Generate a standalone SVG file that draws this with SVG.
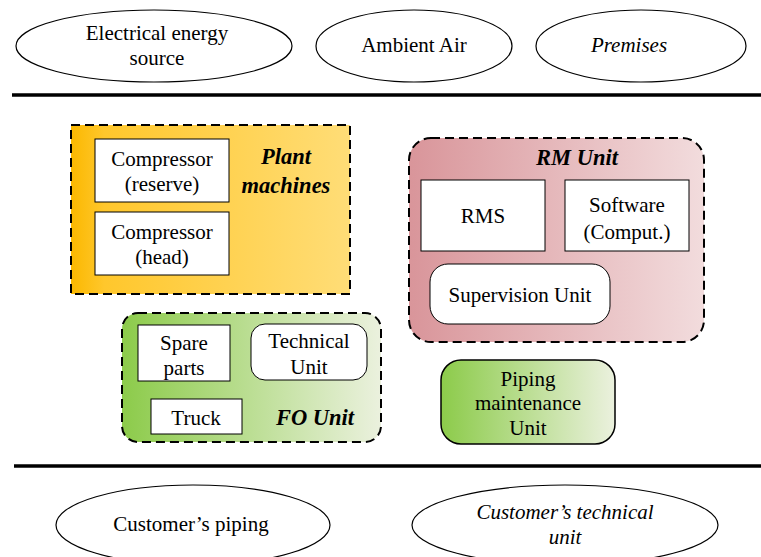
<svg xmlns="http://www.w3.org/2000/svg" width="761" height="557" viewBox="0 0 761 557">
<defs>
<linearGradient id="gOrange" x1="0" y1="0" x2="1" y2="0">
<stop offset="0" stop-color="#FBB800"/>
<stop offset="0.12" stop-color="#FFC72C"/>
<stop offset="1" stop-color="#FFDD77"/>
</linearGradient>
<linearGradient id="gRed" x1="0" y1="0" x2="1" y2="0">
<stop offset="0" stop-color="#D9959A"/>
<stop offset="1" stop-color="#F2DCDD"/>
</linearGradient>
<linearGradient id="gGreen" x1="0" y1="0" x2="1" y2="0">
<stop offset="0" stop-color="#8CCB4A"/>
<stop offset="1" stop-color="#EBF1DE"/>
</linearGradient>
<style>
text{font-size:21px;fill:#000;text-anchor:middle}
.it{font-style:italic}
.bi{font-style:italic;font-weight:bold;font-size:22.5px}
.ell{fill:#fff;stroke:#000;stroke-width:1.2}
.box{fill:#fff;stroke:#000;stroke-width:1}
.dash{stroke:#000;stroke-width:2;stroke-dasharray:9,5}
.bar{stroke:#000;stroke-width:3.5}
</style>
</defs>
<g id="lines">
<line class="bar" x1="12" y1="95" x2="761" y2="95"/>
<line class="bar" x1="14" y1="466" x2="761" y2="466"/>
</g>
<g font-family="Liberation Serif, Times New Roman, DejaVu Serif, serif">
<g id="electrical">
<ellipse class="ell" cx="154" cy="46" rx="138" ry="36"/>
<text x="157" y="40">Electrical energy</text>
<text x="157" y="65">source</text>
</g>
<g id="ambient">
<ellipse class="ell" cx="414" cy="46" rx="98" ry="36"/>
<text x="414" y="52">Ambient Air</text>
</g>
<g id="premises">
<ellipse class="ell" cx="641" cy="46" rx="105" ry="36"/>
<text class="it" x="629" y="52">Premises</text>
</g>
<g id="plant">
<rect class="dash" x="71" y="125" width="279" height="169" fill="url(#gOrange)"/>
<text class="bi" x="286" y="164">Plant</text>
<text class="bi" x="286" y="193">machines</text>
</g>
<g id="comp-reserve">
<rect class="box" x="95" y="139" width="134" height="63"/>
<text x="162" y="166">Compressor</text>
<text x="162" y="191">(reserve)</text>
</g>
<g id="comp-head">
<rect class="box" x="95" y="212" width="134" height="63"/>
<text x="162" y="239">Compressor</text>
<text x="162" y="264">(head)</text>
</g>
<g id="rm">
<rect class="dash" x="409" y="138" width="295" height="204" rx="22" fill="url(#gRed)"/>
<text class="bi" x="577" y="165">RM Unit</text>
</g>
<g id="rms">
<rect class="box" x="421" y="180" width="124" height="71"/>
<text x="483" y="223">RMS</text>
</g>
<g id="software">
<rect class="box" x="565" y="180" width="124" height="71"/>
<text x="627" y="212">Software</text>
<text x="627" y="239">(Comput.)</text>
</g>
<g id="supervision">
<rect class="box" x="430" y="264" width="180" height="60" rx="18"/>
<text x="520" y="302">Supervision Unit</text>
</g>
<g id="fo">
<rect class="dash" x="122" y="313" width="259" height="129" rx="16" fill="url(#gGreen)"/>
<text class="bi" x="315" y="425">FO Unit</text>
</g>
<g id="spare">
<rect class="box" x="138" y="325" width="92" height="56"/>
<text x="184" y="350">Spare</text>
<text x="184" y="375">parts</text>
</g>
<g id="technical">
<rect class="box" x="251" y="324" width="116" height="56" rx="14"/>
<text x="309" y="348">Technical</text>
<text x="309" y="374">Unit</text>
</g>
<g id="truck">
<rect class="box" x="151" y="399" width="91" height="35"/>
<text x="196" y="425">Truck</text>
</g>
<g id="piping">
<rect x="441" y="360" width="174" height="84" rx="20" fill="url(#gGreen)" stroke="#000" stroke-width="1.5"/>
<text x="528" y="386">Piping</text>
<text x="528" y="410">maintenance</text>
<text x="528" y="435">Unit</text>
</g>
<g id="cust-piping">
<ellipse class="ell" cx="193" cy="525" rx="137" ry="40"/>
<text x="191" y="531">Customer’s piping</text>
</g>
<g id="cust-tech">
<ellipse class="ell" cx="565" cy="525" rx="153" ry="40"/>
<text class="it" x="565" y="519">Customer’s technical</text>
<text class="it" x="565" y="544">unit</text>
</g>
</g>
</svg>
